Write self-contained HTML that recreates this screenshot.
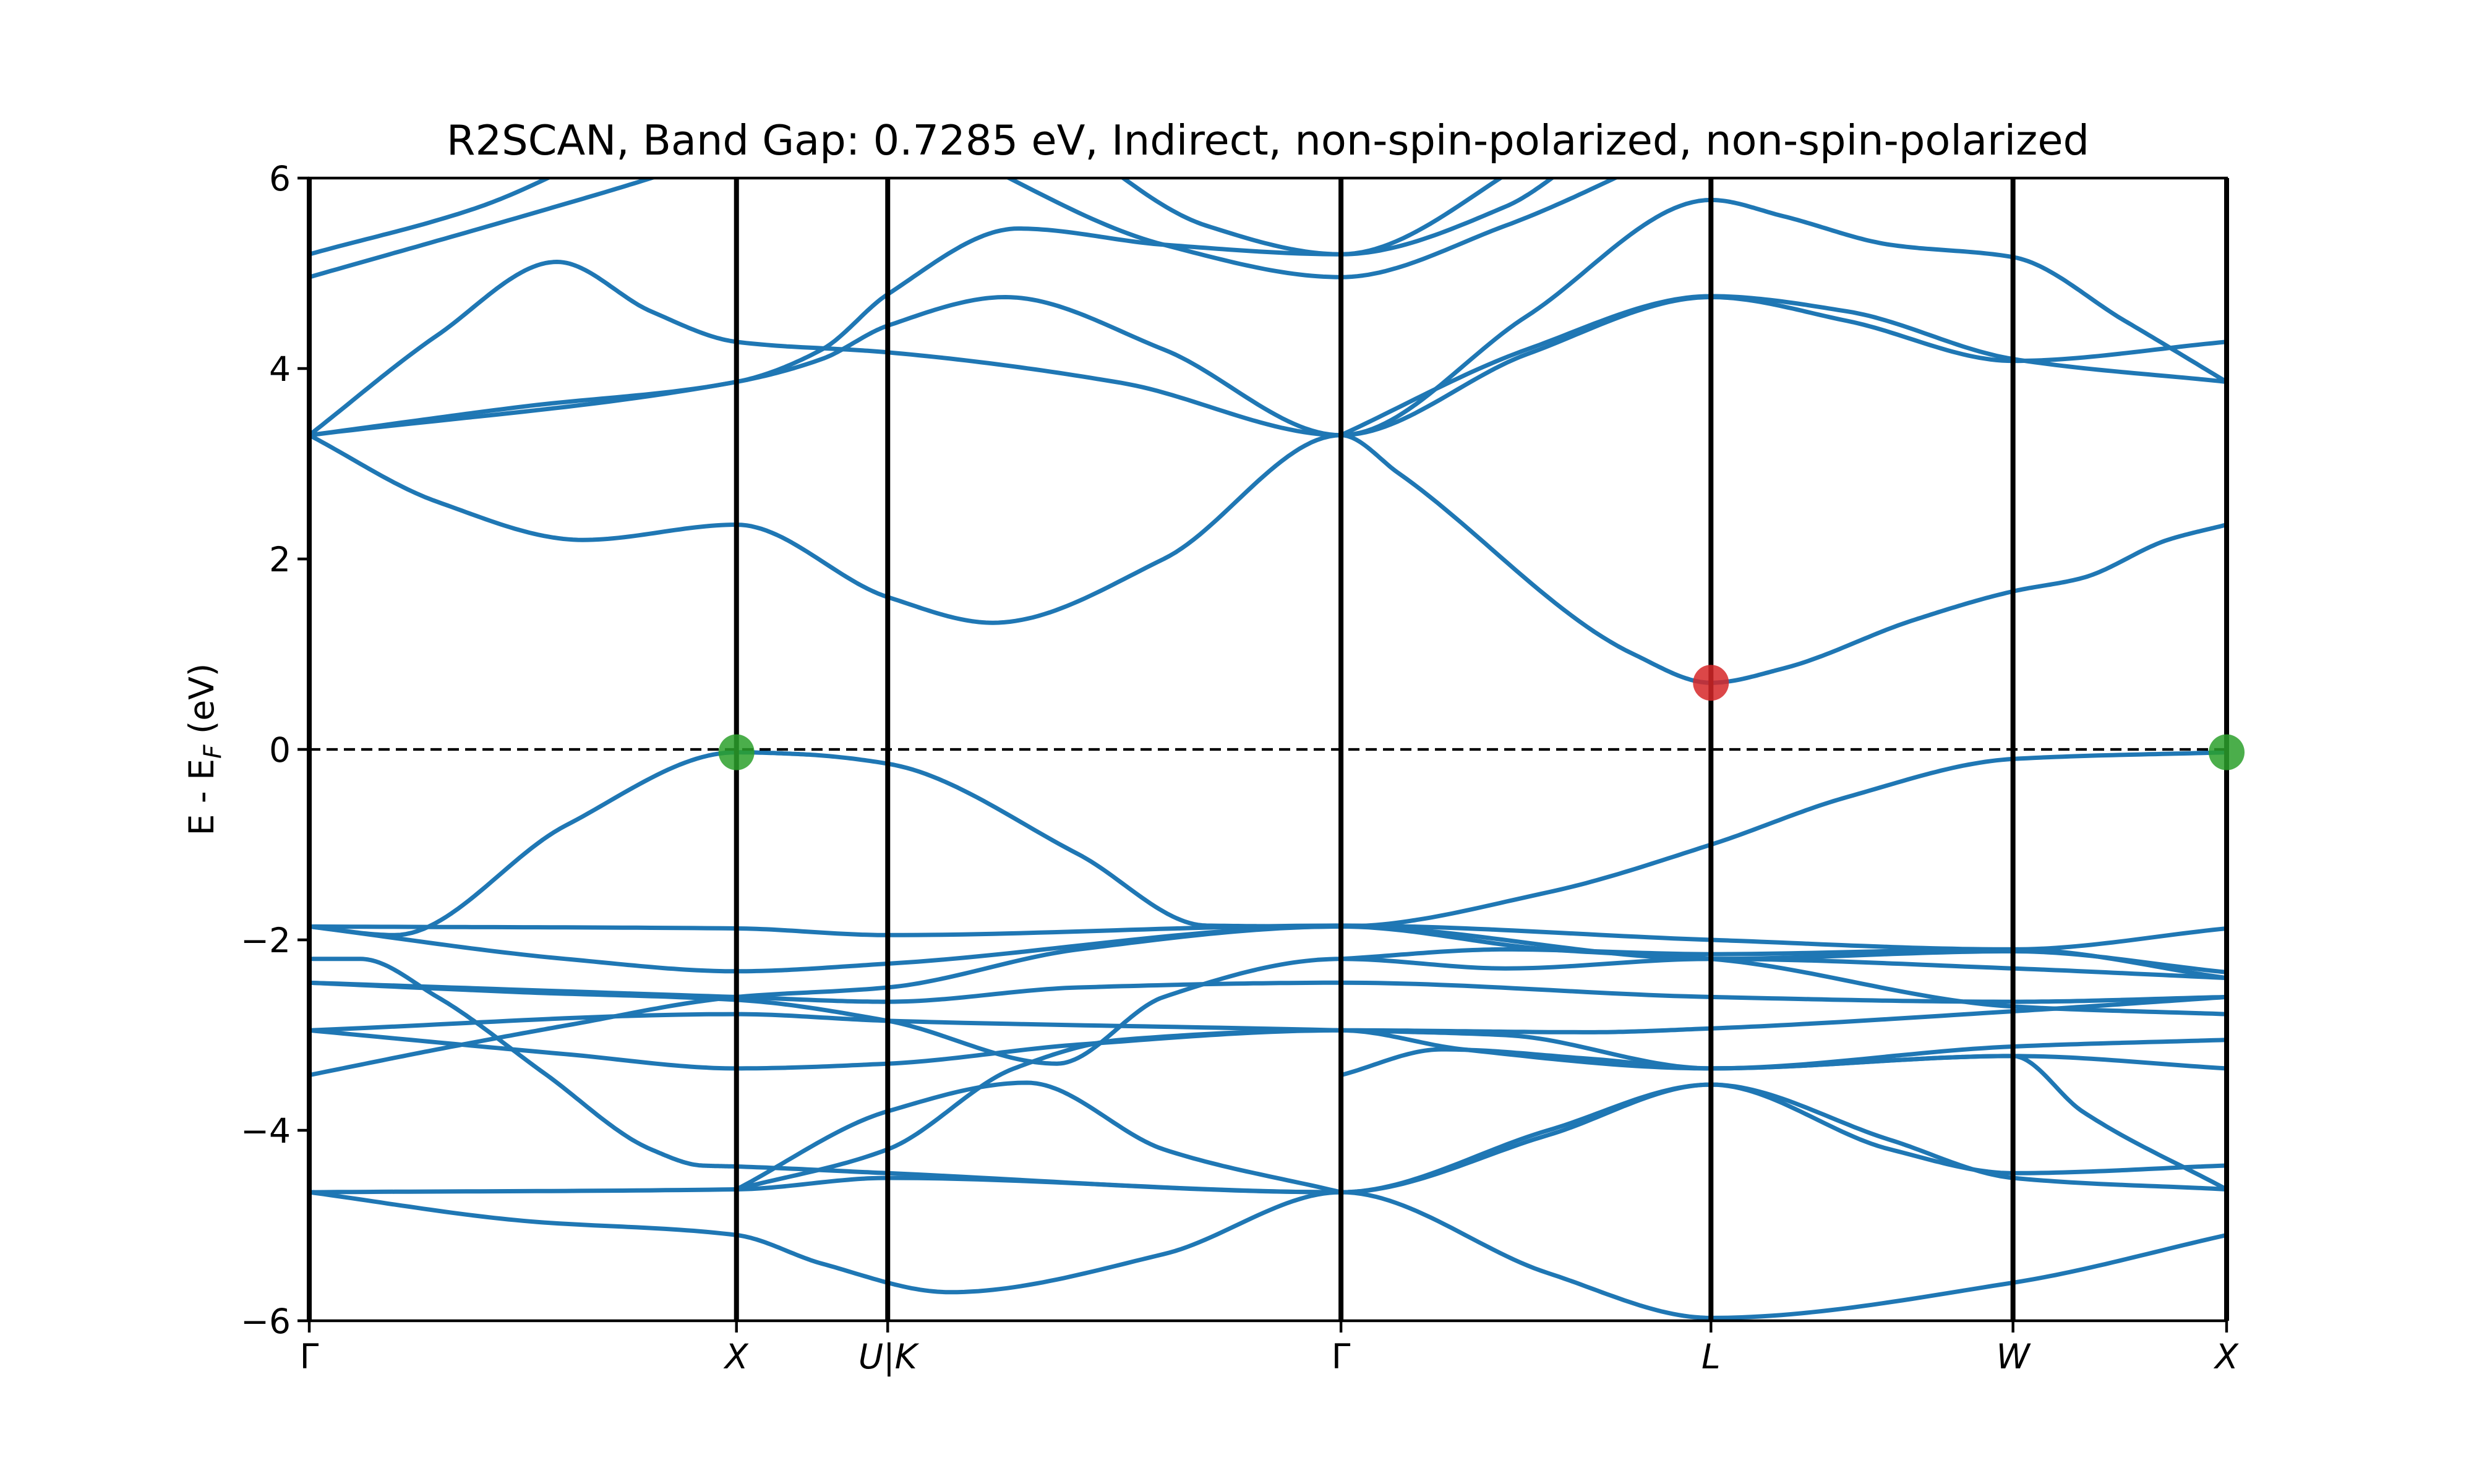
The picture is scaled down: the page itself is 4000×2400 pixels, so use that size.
<!DOCTYPE html>
<html><head><meta charset="utf-8"><style>
html,body{margin:0;padding:0;background:#fff}
svg{display:block}
text{font-family:"DejaVu Sans","Liberation Sans",sans-serif;fill:#000}
</style></head><body>
<svg id="chart" width="4000" height="2400" viewBox="0 0 4000 2400" xmlns="http://www.w3.org/2000/svg">
<rect width="4000" height="2400" fill="#fff"/>
<text x="2050" y="250" font-size="67" text-anchor="middle">R2SCAN, Band Gap: 0.7285 eV, Indirect, non-spin-polarized, non-spin-polarized</text>
<text transform="translate(345,1212) rotate(-90)" font-size="55" text-anchor="middle">E - E<tspan font-style="italic" font-size="39" dy="12">F</tspan><tspan dy="-12"> (eV)</tspan></text>
<g id="plot"></g>
</svg>
<script>
const kTickPos = [0, 1, 1.354, 2.415, 3.281, 3.988, 4.488];
const kTickLabels = ["Γ", "X", "U|K", "Γ", "L", "W", "X"];
const yTicks = [-6, -4, -2, 0, 2, 4, 6];
const yTickLabels = ["−6", "−4", "−2", "0", "2", "4", "6"];
const cbm = [3.281, 0.7];
const vbm = [[1, -0.03], [4.488, -0.03]];
const bands = [
[[0,3.3],[0.3,2.6],[0.64,2.2],[1,2.36],[1.354,1.6],[1.6,1.33],[2.0,2.0],[2.415,3.3],[2.55,2.9],[3.1,1.0],[3.281,0.7],[3.45,0.85],[3.75,1.35],[3.988,1.66],[4.15,1.8],[4.35,2.2],[4.488,2.36]],
[[0,3.3],[0.3,4.35],[0.58,5.12],[0.8,4.6],[1,4.28],[1.354,4.17],[1.9,3.85],[2.415,3.3],[2.85,4.55],[3.281,5.77],[3.45,5.6],[3.7,5.3],[3.988,5.17],[4.25,4.5],[4.488,3.86]],
[[0,3.3],[0.5,3.6],[1,3.86],[1.2,4.2],[1.354,4.78],[1.66,5.47],[2.0,5.3],[2.415,5.2],[2.8,5.7],[3.0,6.3]],
[[0,3.3],[1,3.86],[1.2,4.1],[1.354,4.45],[1.63,4.75],[2.0,4.2],[2.415,3.3],[2.85,4.15],[3.281,4.75],[3.6,4.5],[3.988,4.08],[4.488,4.28]],
[[2.415,3.3],[2.85,4.2],[3.281,4.76],[3.6,4.6],[3.988,4.1],[4.488,3.86]],
[[0,4.96],[0.5,5.6],[0.8,6.0],[1.0,6.3]],
[[0,5.2],[0.4,5.7],[0.7,6.3]],
[[1.5,6.3],[2.0,5.3],[2.415,4.96],[2.8,5.5],[3.2,6.3]],
[[1.75,6.5],[2.1,5.5],[2.415,5.2],[2.9,6.3]],
[[0,-1.86],[0.2,-1.95],[0.6,-0.8],[1,-0.03],[1.15,-0.05],[1.354,-0.15],[1.8,-1.1],[2.1,-1.85],[2.415,-1.86],[2.9,-1.5],[3.281,-1.0],[3.6,-0.5],[3.988,-0.1],[4.488,-0.03]],
[[0,-1.86],[1,-1.88],[1.354,-1.95],[2.415,-1.85],[3.281,-2.0],[3.988,-2.1],[4.488,-1.88]],
[[0,-1.86],[0.6,-2.2],[1,-2.33],[1.354,-2.25],[2.415,-1.86],[3.281,-2.2],[3.988,-2.12],[4.488,-2.34]],
[[0,-2.2],[0.12,-2.2],[0.3,-2.6],[0.55,-3.4],[0.8,-4.2],[0.92,-4.37],[1,-4.38],[1.354,-4.45],[2.415,-4.65],[2.9,-4.0],[3.281,-3.52],[3.7,-4.2],[3.988,-4.45],[4.488,-4.37]],
[[0,-2.45],[1,-2.6],[1.354,-2.65],[1.8,-2.5],[2.415,-2.45],[3.281,-2.6],[3.988,-2.65],[4.488,-2.6]],
[[0,-2.45],[0.5,-2.55],[1,-2.63],[1.354,-2.85],[1.75,-3.3],[2.0,-2.6],[2.415,-2.2],[2.8,-2.3],[3.281,-2.2],[3.988,-2.3],[4.488,-2.4]],
[[0,-2.95],[1,-2.78],[1.354,-2.85],[2.415,-2.95],[2.8,-3.0],[3.281,-3.35],[3.988,-3.22],[4.488,-3.35]],
[[0,-3.42],[0.3,-3.15],[0.6,-2.9],[1,-2.6],[1.354,-2.5],[1.8,-2.1],[2.415,-1.86],[2.9,-2.1],[3.281,-2.2],[3.988,-2.7],[4.488,-2.78]],
[[0,-2.95],[0.6,-3.2],[1,-3.35],[1.354,-3.3],[1.8,-3.1],[2.415,-2.95],[3.0,-2.97],[3.281,-2.93],[3.988,-2.75],[4.488,-2.6]],
[[0,-4.65],[1,-4.62],[1.354,-4.5],[2.415,-4.65],[2.9,-4.05],[3.281,-3.52],[3.7,-4.1],[3.988,-4.5],[4.488,-4.62]],
[[0,-4.65],[0.5,-4.95],[1,-5.1],[1.2,-5.4],[1.5,-5.7],[2.0,-5.3],[2.415,-4.65],[2.9,-5.5],[3.281,-5.97],[3.988,-5.6],[4.488,-5.1]],
[[1,-4.62],[1.354,-3.8],[1.68,-3.5],[2.0,-4.2],[2.415,-4.65]],
[[1,-4.62],[1.354,-4.2],[1.65,-3.35],[1.9,-3.05],[2.415,-2.95],[2.7,-3.15],[3.281,-3.35],[3.988,-3.22],[4.15,-3.8],[4.488,-4.62]],
[[2.415,-3.42],[2.65,-3.15],[3.0,-3.25],[3.281,-3.35],[3.988,-3.12],[4.488,-3.05]],
[[2.415,-2.2],[2.8,-2.1],[3.281,-2.15],[3.988,-2.1],[4.488,-2.4]]
];
const L=500,R=3600,T=288,B=2136,kMax=4.488,yMin=-6,yMax=6;
const sx=k=>L+(k/kMax)*(R-L);
const sy=e=>B-(e-yMin)/(yMax-yMin)*(B-T);
const NS="http://www.w3.org/2000/svg";
const svg=document.getElementById('chart');
const g=document.getElementById('plot');
function mk(tag,attrs,parent){const e=document.createElementNS(NS,tag);for(const a in attrs)e.setAttribute(a,attrs[a]);(parent||g).appendChild(e);return e;}
const defs=mk('defs',{},svg);
const cp=mk('clipPath',{id:'clip'},defs);
mk('rect',{x:L,y:T,width:R-L,height:B-T},cp);
const bg=mk('g',{'clip-path':'url(#clip)'});
function pchip(pts){
  const n=pts.length,x=pts.map(p=>p[0]),y=pts.map(p=>p[1]);
  const h=[],d=[];
  for(let i=0;i<n-1;i++){h.push(x[i+1]-x[i]);d.push((y[i+1]-y[i])/h[i]);}
  const m=new Array(n).fill(0);
  for(let i=1;i<n-1;i++){
    if(d[i-1]*d[i]>0){const w1=2*h[i]+h[i-1],w2=h[i]+2*h[i-1];m[i]=(w1+w2)/(w1/d[i-1]+w2/d[i]);}
  }
  if(n>1){m[0]=d[0];m[n-1]=d[n-2];}
  let s='';
  for(let i=0;i<n-1;i++){
    const steps=30;
    for(let j=(i===0?0:1);j<=steps;j++){
      const t=j/steps,hh=h[i];
      const h00=2*t*t*t-3*t*t+1,h10=t*t*t-2*t*t+t,h01=-2*t*t*t+3*t*t,h11=t*t*t-t*t;
      const yy=h00*y[i]+h10*hh*m[i]+h01*y[i+1]+h11*hh*m[i+1];
      const xx=x[i]+t*hh;
      s+=(s?' L':'M')+sx(xx).toFixed(1)+','+sy(yy).toFixed(1);
    }
  }
  return s;
}
bands.forEach((b,i)=>{
  const p=mk('path',{d:pchip(b),fill:'none',stroke:'#1f77b4','stroke-width':7,'stroke-linejoin':'round'},bg);
  
  
});
const fl=mk('line',{x1:L,x2:R,y1:sy(0),y2:sy(0),stroke:'#000','stroke-width':4.2,'stroke-dasharray':'18 10'});


kTickPos.forEach((k,i)=>{
  const v=mk('line',{x1:sx(k),x2:sx(k),y1:T,y2:B,stroke:'#000','stroke-width':8});
  
  
  mk('line',{x1:sx(k),x2:sx(k),y1:B,y2:B+19,stroke:'#000','stroke-width':4.4});
  const t=mk('text',{x:sx(k),y:B+77,'font-size':55,'text-anchor':'middle','font-style':kTickLabels[i]==='Γ'?'normal':'italic'});
  t.textContent=kTickLabels[i];
  
  
});
yTicks.forEach((v,i)=>{
  mk('line',{x1:L-19,x2:L,y1:sy(v),y2:sy(v),stroke:'#000','stroke-width':4.4});
  const t=mk('text',{x:L-30,y:sy(v)+20,'font-size':55,'text-anchor':'end'});
  t.textContent=yTickLabels[i];
  
  
});
const fr=mk('rect',{x:L,y:T,width:R-L,height:B-T,fill:'none',stroke:'#000','stroke-width':4.4});


vbm.forEach(p=>{
  const c=mk('circle',{cx:sx(p[0]),cy:sy(p[1]),r:29,fill:'#2ca02c','fill-opacity':0.85});
  
  
});
const cm=mk('circle',{cx:sx(cbm[0]),cy:sy(cbm[1]),r:29,fill:'#d62728','fill-opacity':0.85});


</script>
</body></html>
